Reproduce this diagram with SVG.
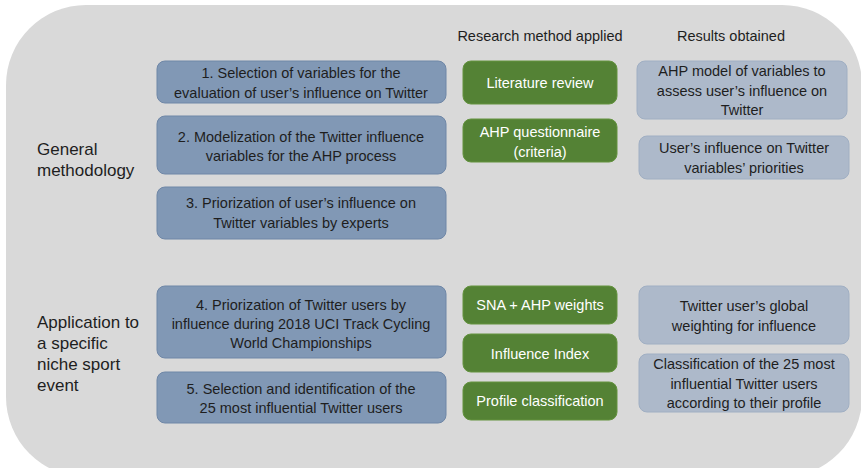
<svg xmlns="http://www.w3.org/2000/svg" width="861" height="468" viewBox="0 0 861 468">
<style>
text{font-family:"Liberation Sans",Arial,sans-serif;font-size:14.5px;text-anchor:middle}
.blue{fill:#8198b5;stroke:#6f87a7;stroke-width:1}
.green{fill:#548235;stroke:#64933f;stroke-width:1}
.light{fill:#adb9ca;stroke:#a0afc3;stroke-width:1}
.dark{fill:#1e1e1e}
.white{fill:#ffffff}
.lbl{font-size:17px;text-anchor:start;fill:#1e1e1e}
</style>
<rect x="6" y="5" width="856" height="472" rx="80" ry="80" fill="#d9d9d9"/>
<g id="headers">
<text class="dark" x="540" y="41">Research method applied</text>
<text class="dark" x="731" y="41">Results obtained</text>
</g>
<g id="label-general">
<text class="lbl" x="37" y="155">General</text>
<text class="lbl" x="37" y="176">methodology</text>
</g>
<g id="label-application">
<text class="lbl" x="37" y="328">Application to</text>
<text class="lbl" x="37" y="349">a specific</text>
<text class="lbl" x="37" y="370">niche sport</text>
<text class="lbl" x="37" y="391">event</text>
</g>
<g id="step1"><rect class="blue" x="157" y="61" width="289" height="42" rx="8"/>
<text class="dark" x="301" y="78">1. Selection of variables for the</text>
<text class="dark" x="301" y="98">evaluation of user’s influence on Twitter</text></g>
<g id="step2"><rect class="blue" x="157" y="116" width="289" height="58" rx="8"/>
<text class="dark" x="301" y="142">2. Modelization of the Twitter influence</text>
<text class="dark" x="301" y="161">variables for the AHP process</text></g>
<g id="step3"><rect class="blue" x="157" y="187" width="289" height="52" rx="8"/>
<text class="dark" x="301" y="208">3. Priorization of user’s influence on</text>
<text class="dark" x="301" y="228">Twitter variables by experts</text></g>
<g id="step4"><rect class="blue" x="157" y="286" width="289" height="72" rx="8"/>
<text class="dark" x="301" y="310">4. Priorization of Twitter users by</text>
<text class="dark" x="301" y="329">influence during 2018 UCI Track Cycling</text>
<text class="dark" x="301" y="348">World Championships</text></g>
<g id="step5"><rect class="blue" x="157" y="372" width="289" height="51" rx="8"/>
<text class="dark" x="301" y="394">5. Selection and identification of the</text>
<text class="dark" x="301" y="413">25 most influential Twitter users</text></g>
<g id="m-literature"><rect class="green" x="463" y="61" width="154" height="43" rx="8"/>
<text class="white" x="540" y="88">Literature review</text></g>
<g id="m-ahpq"><rect class="green" x="463" y="119" width="154" height="43" rx="8"/>
<text class="white" x="540" y="137">AHP questionnaire</text>
<text class="white" x="540" y="157">(criteria)</text></g>
<g id="m-sna"><rect class="green" x="463" y="286" width="154" height="38" rx="8"/>
<text class="white" x="540" y="310">SNA + AHP weights</text></g>
<g id="m-index"><rect class="green" x="463" y="334" width="154" height="38" rx="8"/>
<text class="white" x="540" y="359">Influence Index</text></g>
<g id="m-profile"><rect class="green" x="463" y="382" width="154" height="38" rx="8"/>
<text class="white" x="540" y="406">Profile classification</text></g>
<g id="r1"><rect class="light" x="637" y="61" width="210" height="58" rx="8"/>
<text class="dark" x="742" y="76">AHP model of variables to</text>
<text class="dark" x="742" y="96">assess user’s influence on</text>
<text class="dark" x="742" y="115">Twitter</text></g>
<g id="r2"><rect class="light" x="639" y="136" width="210" height="43" rx="8"/>
<text class="dark" x="744" y="153">User’s influence on Twitter</text>
<text class="dark" x="744" y="173">variables’ priorities</text></g>
<g id="r3"><rect class="light" x="639" y="286" width="210" height="58" rx="8"/>
<text class="dark" x="744" y="311">Twitter user’s global</text>
<text class="dark" x="744" y="331">weighting for influence</text></g>
<g id="r4"><rect class="light" x="639" y="354" width="210" height="58" rx="8"/>
<text class="dark" x="744" y="369">Classification of the 25 most</text>
<text class="dark" x="744" y="389">influential Twitter users</text>
<text class="dark" x="744" y="408">according to their profile</text></g>
<g id="connectors"></g>
</svg>
